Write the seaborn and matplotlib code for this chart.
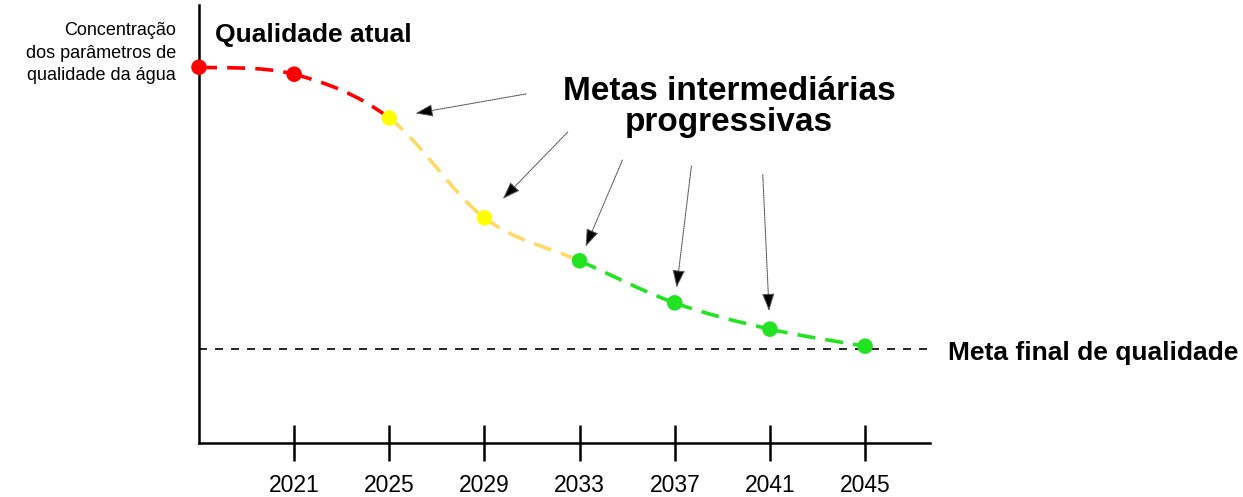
import matplotlib
matplotlib.use("Agg")
import matplotlib.pyplot as plt
from matplotlib.path import Path
from matplotlib.patches import PathPatch
import pandas as pd
import seaborn as sns

# values (concentracao in arbitrary units, 0 = x axis)
anos = [2017, 2021, 2025, 2029, 2033, 2037, 2041, 2045]
concentracao = [85.8, 84.2, 74.2, 51.4, 41.6, 32.0, 26.0, 22.1]
fase = ["atual", "atual", "intermediaria", "intermediaria",
        "meta", "meta", "meta", "meta"]
meta_final = 21.5
anos_ticks = [2021, 2025, 2029, 2033, 2037, 2041, 2045]

# arrows from the "Metas intermediárias" label to these years
seta_anos = [2025, 2029, 2033, 2037, 2041]
seta_origem = [(2030.75, 79.7), (2032.5, 71.0), (2034.8, 64.6),
               (2037.7, 63.2), (2040.7, 61.2)]
seta_folga = [19, 19, 11, 11, 13]

cor_ponto = {"atual": "#ff0000", "intermediaria": "#ffff00", "meta": "#22e322"}
cor_linha = ["#ff0000", "#ff0000", "#ffd966", "#ffd966",
             "#22e322", "#22e322", "#22e322"]

W, H = 1243, 497


def fx(px):
    return px / W


def fy(py):
    return 1 - py / H


def curva(ax, xs, ys, cores):
    # smooth curve through the points (catmull-rom drawn as bezier pieces)
    n = len(xs)
    for i in range(n - 1):
        x0, y0 = xs[max(i - 1, 0)], ys[max(i - 1, 0)]
        x1, y1 = xs[i], ys[i]
        x2, y2 = xs[i + 1], ys[i + 1]
        x3, y3 = xs[min(i + 2, n - 1)], ys[min(i + 2, n - 1)]
        c1 = (x1 + (x2 - x0) / 6, y1 + (y2 - y0) / 6)
        c2 = (x2 - (x3 - x1) / 6, y2 - (y3 - y1) / 6)
        p = Path([(x1, y1), c1, c2, (x2, y2)],
                 [Path.MOVETO, Path.CURVE4, Path.CURVE4, Path.CURVE4])
        ax.add_patch(PathPatch(p, fill=False, edgecolor=cores[i], lw=2.6,
                               linestyle=(0, (5, 2.8)), capstyle="butt",
                               zorder=2))


sns.set_theme(style="white")
plt.rcParams["font.family"] = ["Liberation Sans", "DejaVu Sans"]
plt.rcParams["text.color"] = "black"
plt.rcParams["xtick.color"] = "black"
plt.rcParams["xtick.labelcolor"] = "black"

df = pd.DataFrame({"ano": anos, "concentracao": concentracao, "fase": fase})

fig = plt.figure(figsize=(W / 100, H / 100), dpi=100)
ax = fig.add_axes([fx(199), 1 - 443 / H, (930 - 199) / W, (443 - 5) / H])

ax.axhline(meta_final, color="black", lw=1.2, linestyle=(0, (4.8, 4.8)), zorder=1)
curva(ax, anos, concentracao, cor_linha)
sns.scatterplot(data=df, x="ano", y="concentracao", hue="fase",
                palette=cor_ponto, s=125, linewidth=0, legend=False,
                zorder=4, clip_on=False, ax=ax)

for ano, orig, folga in zip(seta_anos, seta_origem, seta_folga):
    alvo = (ano, concentracao[anos.index(ano)])
    ax.annotate("", xy=alvo, xytext=orig,
                arrowprops=dict(arrowstyle="-|>,head_length=0.9,head_width=0.32",
                                color="#555555", fc="black", lw=0.8,
                                linestyle=(0, (1, 1)), shrinkA=0,
                                shrinkB=folga))

ax.set_xlim(2017, 2047.73)
ax.set_ylim(0, 100)
ax.set_xticks(anos_ticks)
ax.set_xticklabels([str(a) for a in anos_ticks], fontsize=16.5)
ax.set_yticks([])
ax.set_xlabel("")
ax.set_ylabel("")
ax.tick_params(axis="x", bottom=True, direction="inout", length=26.6,
               width=1.8, color="black", pad=9)
for lado in ["top", "right"]:
    ax.spines[lado].set_visible(False)
for lado in ["left", "bottom"]:
    ax.spines[lado].set_color("black")
    ax.spines[lado].set_linewidth(1.8)

fig.text(fx(176), fy(53), "Concentração\ndos parâmetros de\nqualidade da água",
         ha="right", va="center", fontsize=13, linespacing=1.4)
fig.text(fx(215), fy(42), "Qualidade atual", ha="left", va="baseline",
         fontsize=19, fontweight="bold")
fig.text(fx(729), fy(107), "Metas intermediárias\nprogressivas", ha="center",
         va="center", fontsize=24, fontweight="bold", linespacing=1.0)
fig.text(fx(948), fy(360), "Meta final de qualidade", ha="left", va="baseline",
         fontsize=19, fontweight="bold")

fig.savefig("out.png", dpi=100)
